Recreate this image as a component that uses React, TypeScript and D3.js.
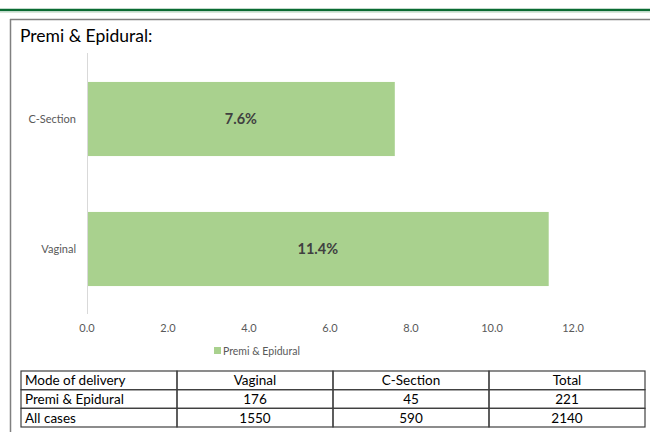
import React from "react";
import * as d3 from "d3";

const categories = ["C-Section", "Vaginal"];
const values = [7.6, 11.4];
const xTicks = [0, 2, 4, 6, 8, 10, 12];
const seriesName = "Premi & Epidural";
const tableHeader = ["Mode of delivery", "Vaginal", "C-Section", "Total"];
const tableRows = [
  ["Premi & Epidural", "176", "45", "221"],
  ["All cases", "1550", "590", "2140"],
];

const W = 650;
const H = 432;
const FONT = "Lato, 'Open Sans', sans-serif";

export default function App() {
  const x = d3.scaleLinear().domain([0, 12]).range([87, 573]);
  const y = d3.scaleBand().domain(categories).range([54, 314]).paddingInner(0.43).paddingOuter(0.215);
  const colX = d3.scaleBand().domain(tableHeader.map((_, i) => String(i))).range([21, 645]);
  const rowY = d3.scaleBand().domain(["0", "1", "2"]).range([371, 427]);
  const allRows = [tableHeader, ...tableRows];
  const green = "#a9d18e";
  return (
    <svg width={W} height={H} style={{ position: "absolute", left: 0, top: 0, background: "#fff" }}>
      <rect x={0} y={0} width={W} height={H} fill="#fff" />
      <line x1={0} x2={W} y1={10} y2={10} stroke="#0b6b33" strokeWidth={2.6} />
      <line x1={0} x2={W} y1={12.5} y2={12.5} stroke="#d9e8dc" strokeWidth={1} />
      <line x1={10} x2={W} y1={19.5} y2={19.5} stroke="#808080" strokeWidth={1.5} />
      <line x1={10.5} x2={10.5} y1={19} y2={H} stroke="#808080" strokeWidth={1.5} />
      <text x={20} y={42} fontFamily={FONT} fontSize={17.5} fill="#000">Premi &amp; Epidural:</text>

      {categories.map((c, i) => (
        <g key={c}>
          <rect x={x(0)} y={y(c)!} width={x(values[i]) - x(0)} height={y.bandwidth()} fill={green} />
          <text
            x={(x(0) + x(values[i])) / 2}
            y={y(c)! + y.bandwidth() / 2}
            dy="0.35em"
            textAnchor="middle"
            fontFamily={FONT}
            fontWeight="bold"
            fontSize={14.5}
            fill="#404040"
          >
            {values[i].toFixed(1)}%
          </text>
          <text
            x={76}
            y={y(c)! + y.bandwidth() / 2}
            dy="0.35em"
            textAnchor="end"
            fontFamily={FONT}
            fontSize={11}
            fill="#595959"
          >
            {c}
          </text>
        </g>
      ))}
      <line x1={x(0) + 0.5} x2={x(0) + 0.5} y1={53} y2={314} stroke="#d9d9d9" strokeWidth={1} />
      {xTicks.map((t) => (
        <text key={t} x={x(t)} y={332} textAnchor="middle" fontFamily={FONT} fontSize={11} fill="#595959">
          {t.toFixed(1)}
        </text>
      ))}
      <rect x={214} y={347} width={7} height={7} fill={green} />
      <text x={223} y={355} fontFamily={FONT} fontSize={10.5} fill="#595959">{seriesName}</text>

      {allRows.map((row, r) => (
        <g key={r}>
          {row.map((cell, c) => (
            <g key={c}>
              <rect
                x={colX(String(c))!}
                y={rowY(String(r))!}
                width={colX.bandwidth()}
                height={rowY.bandwidth()}
                fill="none"
                stroke="#404040"
                strokeWidth={1.2}
              />
              <text
                x={c === 0 ? colX(String(c))! + 4 : colX(String(c))! + colX.bandwidth() / 2}
                y={rowY(String(r))! + rowY.bandwidth() / 2}
                dy="0.36em"
                textAnchor={c === 0 ? "start" : "middle"}
                fontFamily={FONT}
                fontSize={13.5}
                fill="#000"
              >
                {cell}
              </text>
            </g>
          ))}
        </g>
      ))}
    </svg>
  );
}
